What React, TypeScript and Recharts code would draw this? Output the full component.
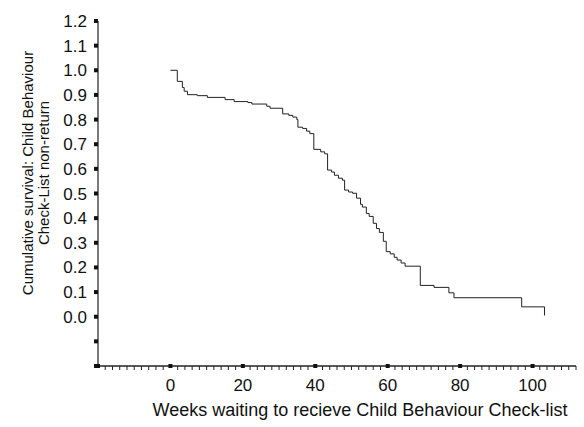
import React from 'react';
import { LineChart, Line, XAxis, YAxis, Label } from 'recharts';

// Kaplan-Meier style survival steps
const weeks = [
  0, 1.9, 3.3, 3.8, 4.7, 7.4, 10.2, 15.1, 17.6, 21.4, 22.5, 26.6, 27.5, 31.0,
  32.7, 33.8, 34.9, 35.2, 36.5, 37.6, 38.5, 39.6, 41.5, 42.6, 43.4, 44.5, 45.3,
  46.4, 47.5, 48.1, 49.2, 50.3, 51.4, 52.5, 53.0, 54.1, 54.9, 56.0, 56.9, 57.7,
  58.8, 59.6, 60.7, 61.8, 62.6, 63.7, 64.8, 69.0, 72.8, 76.9, 78.3, 97.0, 103.3,
];
const survival = [
  1.0, 0.955, 0.93, 0.915, 0.901, 0.897, 0.89, 0.881, 0.873, 0.869, 0.863, 0.854,
  0.846, 0.823, 0.817, 0.81, 0.8, 0.769, 0.764, 0.753, 0.743, 0.679, 0.669, 0.661,
  0.595, 0.587, 0.574, 0.562, 0.554, 0.514, 0.506, 0.501, 0.481, 0.456, 0.445,
  0.419, 0.407, 0.379, 0.358, 0.342, 0.306, 0.264, 0.255, 0.241, 0.23, 0.218,
  0.205, 0.127, 0.119, 0.097, 0.077, 0.04, 0.005,
];

const xTicks = Array.from({ length: 67 }, (_, i) => -20 + i * 2);
const xLabels = [0, 20, 40, 60, 80, 100];
const yTicks = Array.from({ length: 15 }, (_, i) => Math.round((-0.2 + i * 0.1) * 10) / 10);

const data = weeks.map((w, i) => ({ week: w, survival: survival[i] }));

const FONT = 'Arial, "Liberation Sans", Helvetica, sans-serif';

const XTick = ({ x, y, payload }: any) => {
  const v = payload.value;
  const major = v % 20 === 0;
  return (
    <g>
      {major ? (
        <rect x={x - 2} y={y - 2} width={4} height={4} fill="#111" />
      ) : (
        <line x1={x} y1={y} x2={x} y2={y + 4} stroke="#222" strokeWidth={1} />
      )}
      {xLabels.includes(v) && (
        <text x={x} y={y + 25} textAnchor="middle" fontSize={17} fontFamily={FONT} fill="#111">
          {v}
        </text>
      )}
    </g>
  );
};

const YTick = ({ x, y, payload }: any) => {
  const v = payload.value;
  return (
    <g>
      <rect x={x - 4} y={y - 2} width={4} height={4} fill="#111" />
      {v >= 0 && (
        <text x={x - 11} y={y + 6} textAnchor="end" fontSize={17} fontFamily={FONT} fill="#111">
          {v.toFixed(1)}
        </text>
      )}
    </g>
  );
};

const YTitle = () => (
  <text fontSize={15} fontFamily={FONT} fill="#111" textAnchor="middle" transform="translate(33,173) rotate(-90)">
    <tspan x={0} y={0}>Cumulative survival: Child Behaviour</tspan>
    <tspan x={0} y={16}>Check-List non-return</tspan>
  </text>
);

const XTitle = () => (
  <text x={360} y={416} fontSize={18} fontFamily={FONT} fill="#111" textAnchor="middle">
    Weeks waiting to recieve Child Behaviour Check-list
  </text>
);

export default function App() {
  return (
    <div style={{ position: 'absolute', left: 0, top: 0, background: '#fff' }}>
      <LineChart width={584} height={427} data={data} margin={{ top: 21, right: 8, bottom: 0, left: 0 }}>
        <XAxis
          dataKey="week"
          type="number"
          domain={[-20, 112]}
          ticks={xTicks}
          interval={0}
          tick={<XTick />}
          tickLine={false}
          tickSize={0}
          tickMargin={0}
          axisLine={{ stroke: '#222', strokeWidth: 1.5 }}
          height={61}
        >
          <Label content={<XTitle />} />
        </XAxis>
        <YAxis
          type="number"
          domain={[-0.2, 1.2]}
          ticks={yTicks}
          interval={0}
          tick={<YTick />}
          tickLine={false}
          tickSize={0}
          tickMargin={0}
          width={98}
          axisLine={{ stroke: '#222', strokeWidth: 1.2 }}
        >
          <Label content={<YTitle />} />
        </YAxis>
        <Line
          type="stepAfter"
          dataKey="survival"
          stroke="#222"
          strokeWidth={1}
          dot={false}
          isAnimationActive={false}
        />
      </LineChart>
    </div>
  );
}
